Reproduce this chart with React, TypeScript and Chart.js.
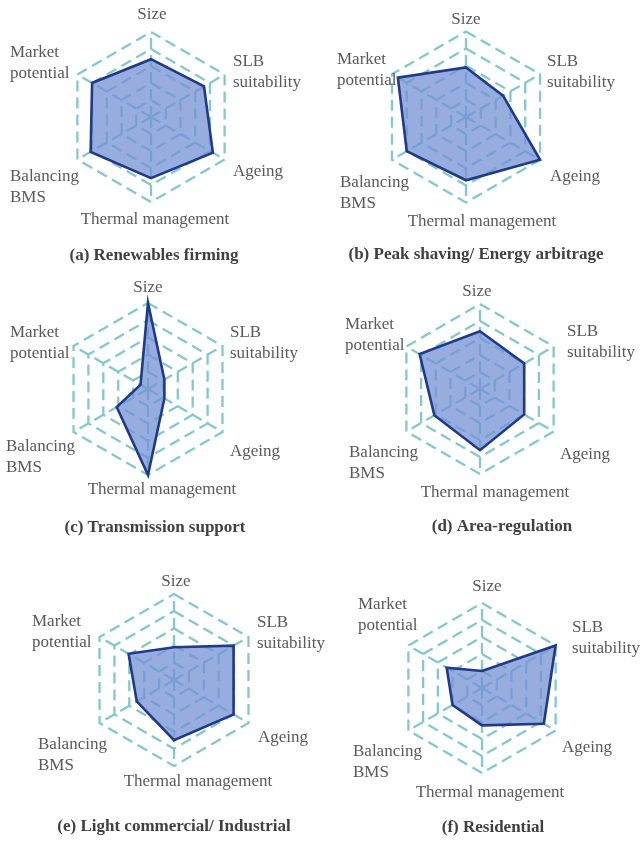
import React, { useEffect, useRef } from "react";
import { Chart, registerables } from "chart.js";

Chart.register(...registerables);

// ---------- data ----------
const axisLabels: (string | string[])[] = [
  "Size",
  ["SLB", "suitability"],
  "Ageing",
  "Thermal management",
  ["Balancing", "BMS"],
  ["Market", "potential"],
];

const scaleMin = 0;
const scaleMax = 5;
const scaleStep = 1;

const renewablesFirming = [3.4, 3.6, 4.2, 3.6, 4.1, 4.0];
const peakShaving = [2.9, 2.5, 5.0, 3.7, 4.0, 4.6];
const transmissionSupport = [5.0, 1.1, 1.1, 5.0, 2.1, 0.5];
const areaRegulation = [3.4, 3.0, 3.0, 3.6, 3.1, 4.1];
const lightCommercial = [1.9, 4.0, 4.0, 3.5, 2.5, 3.05];
const residential = [1.0, 5.0, 4.2, 2.2, 2.0, 2.4];

const panelTitles = [
  "(a) Renewables firming",
  "(b) Peak shaving/ Energy arbitrage",
  "(c) Transmission support",
  "(d) Area-regulation",
  "(e) Light commercial/ Industrial",
  "(f) Residential",
];

const panelSeries = [
  renewablesFirming,
  peakShaving,
  transmissionSupport,
  areaRegulation,
  lightCommercial,
  residential,
];

// ---------- layout & style ----------
type Off = [number, number];
interface PanelLayout {
  left: number;
  top: number;
  width: number;
  height: number;
  cx: number;
  cy: number;
  r: number;
  title: Off;
  labels: Off[];
}

const layouts: PanelLayout[] = [
  { left: 0, top: 0, width: 320, height: 270, cx: 151, cy: 117, r: 85, title: [154, 256],
    labels: [[1, -102], [82, -55], [82, 55], [4, 103], [-141, 60], [-141, -64]] },
  { left: 320, top: 0, width: 321, height: 270, cx: 146, cy: 117, r: 85.5, title: [156, 255],
    labels: [[0, -97], [81, -55], [84, 60], [16, 105], [-126, 66], [-129, -57]] },
  { left: 0, top: 270, width: 320, height: 280, cx: 148, cy: 119, r: 86, title: [155, 258],
    labels: [[0, -101], [82, -56], [82, 63], [14, 101], [-142, 58], [-138, -56]] },
  { left: 320, top: 270, width: 321, height: 280, cx: 160, cy: 119, r: 85, title: [182, 257],
    labels: [[-3, -97], [87, -57], [80, 66], [15, 104], [-131, 64], [-135, -64]] },
  { left: 0, top: 550, width: 345, height: 292, cx: 174, cy: 130, r: 86, title: [174, 277],
    labels: [[2, -98], [83, -57], [84, 58], [24, 102], [-136, 65], [-142, -58]] },
  { left: 320, top: 550, width: 321, height: 292, cx: 162, cy: 138, r: 85, title: [173, 278],
    labels: [[5, -101], [90, -60], [80, 60], [8, 105], [-129, 64], [-124, -83]] },
];

const labelAlign: CanvasTextAlign[] = ["center", "left", "left", "center", "left", "left"];
const gridColor = "#82c8cd";
const fillColor = "rgba(116,146,214,0.75)";
const lineColor = "#1f3a86";
const labelColor = "#595959";
const titleColor = "#404040";
const fontFamily = '"Liberation Serif", "Times New Roman", serif';
const lineGap = 21;
const dashPattern = [11, 6];

function makeTextPlugin(layout: PanelLayout, title: string) {
  return {
    id: "panelText",
    afterDraw(chart: any) {
      const s = chart.scales.r;
      const ctx: CanvasRenderingContext2D = chart.ctx;
      ctx.save();
      ctx.font = `17px ${fontFamily}`;
      ctx.fillStyle = labelColor;
      ctx.textBaseline = "middle";
      (chart.data.labels as (string | string[])[]).forEach((lab, i) => {
        const lines = Array.isArray(lab) ? lab : [lab];
        const [dx, dy] = layout.labels[i];
        ctx.textAlign = labelAlign[i];
        lines.forEach((line, j) => {
          ctx.fillText(line, s.xCenter + dx, s.yCenter + dy + j * lineGap);
        });
      });
      ctx.font = `bold 17px ${fontFamily}`;
      ctx.fillStyle = titleColor;
      ctx.textAlign = "center";
      ctx.fillText(title, layout.title[0], layout.title[1]);
      ctx.restore();
    },
  };
}

function RadarPanel({ index }: { index: number }) {
  const ref = useRef<HTMLCanvasElement | null>(null);
  const L = layouts[index];
  useEffect(() => {
    if (!ref.current) return;
    const chart = new Chart(ref.current, {
      type: "radar",
      data: {
        labels: axisLabels as any,
        datasets: [
          {
            data: panelSeries[index],
            backgroundColor: fillColor,
            borderColor: lineColor,
            borderWidth: 2.6,
            pointRadius: 0,
            pointHoverRadius: 0,
            fill: true,
          },
        ],
      },
      options: {
        responsive: false,
        animation: false,
        events: [],
        layout: { padding: 0 },
        elements: { line: { borderJoinStyle: "miter", tension: 0 } },
        plugins: {
          legend: { display: false },
          tooltip: { enabled: false },
          title: { display: false },
        },
        scales: {
          r: {
            min: scaleMin,
            max: scaleMax,
            ticks: { display: false, stepSize: scaleStep },
            grid: { color: gridColor, lineWidth: 2.3 },
            border: { dash: dashPattern },
            angleLines: { color: gridColor, lineWidth: 2.3, borderDash: dashPattern },
            pointLabels: { display: false },
            afterFit: (scale: any) => {
              scale.xCenter = L.cx;
              scale.yCenter = L.cy;
              scale.drawingArea = L.r;
            },
          } as any,
        },
      },
      plugins: [makeTextPlugin(L, panelTitles[index])],
    });
    return () => chart.destroy();
  }, [index]);
  return (
    <canvas
      ref={ref}
      width={L.width}
      height={L.height}
      style={{ position: "absolute", left: L.left, top: L.top, width: L.width, height: L.height }}
    />
  );
}

export default function App() {
  return (
    <div style={{ position: "absolute", left: 0, top: 0, width: 641, height: 842, background: "#fff" }}>
      {layouts.map((_, i) => (
        <RadarPanel key={i} index={i} />
      ))}
    </div>
  );
}
